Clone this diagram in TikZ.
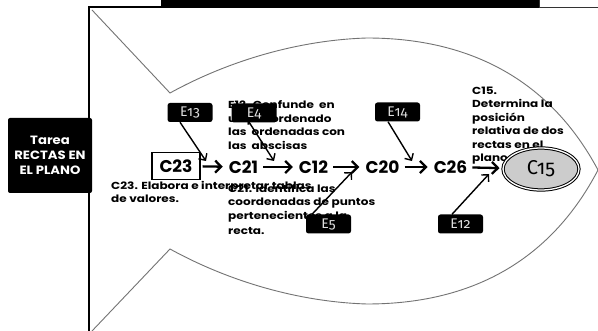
\documentclass[tikz,border=0pt]{standalone}
\usepackage{fontspec}
\setmainfont{Poppins}
\newfontfamily\efont[Numbers=OldStyle]{Fira Sans}
\newfontfamily\descfont[FakeStretch=1.18, BoldFeatures={FakeStretch=1.18}]{Poppins}
\newfontfamily\tareafont[FakeStretch=1.1, BoldFeatures={FakeStretch=1.1}]{Poppins}
\usetikzlibrary{arrows.meta,shapes.geometric,calc}
\tikzset{
  fishline/.style={draw=gray!90!black, line width=0.9pt},
  tareabox/.style={fill=black, rounded corners=2pt, text=white, minimum width=84pt, minimum height=75pt, align=center, inner sep=0pt, font=\tareafont\fontsize{12}{15}\selectfont\bfseries},
  clabel/.style={inner sep=3pt, font=\fontsize{17}{17}\selectfont\bfseries},
  cbox/.style={clabel, draw, line width=1.3pt, minimum width=48pt, minimum height=27pt},
  cellipse/.style={ellipse, draw, double, double distance=1.3pt, line width=1pt, fill=gray!40, minimum width=76pt, minimum height=42pt, inner sep=0pt, font=\efont\fontsize{20}{20}\selectfont},
  ebox/.style={fill=black, rounded corners=2.5pt, minimum width=45pt, minimum height=19pt, inner sep=0pt, text=gray!25, font=\efont\fontsize{14}{14}\selectfont},
  desc/.style={anchor=north west, inner sep=0pt, align=left, font=\descfont\fontsize{10.2}{13.5}\selectfont\bfseries},
  flow/.style={line width=2.3pt, -{Straight Barb[length=6pt,width=12pt]}, shorten <=2pt, shorten >=3pt},
  earrow/.style={line width=1.4pt, -{Straight Barb[length=5pt,width=10pt]}}
}
\begin{document}
\begin{tikzpicture}[x=1pt,y=-1pt]
\useasboundingbox (0,0) rectangle (598,331);
\fill[white] (0,0) rectangle (598,331);
% fish
\draw[fishline] (92,10) -- (170,93) .. controls (230,60) and (300,40) .. (367,38)
  .. controls (470,38) and (550,80) .. (598,170)
  .. controls (550,262) and (470,304) .. (367,304)
  .. controls (300,302) and (230,282) .. (170,249) -- (92,331);
% frame and banner
\draw[line width=2.5pt] (89,331) -- (89,7) -- (161,7);
\fill[black] (161,0) rectangle (539,8.5);
\draw[line width=0.8pt, black!80] (539,0) -- (539,7) -- (598,7);
% task box
\node[tareabox] (tarea) at (50,155.5) {Tarea\\RECTAS EN\\EL PLANO};
% descriptions
\node[desc] (d23) at (111,181) {C23. Elabora e interpretar tablas\\de valores.};
\node[desc] (d21) at (228,184) {C21. Identifica las\\coordenadas de puntos\\pertenecientes a la\\[1.5pt]recta.};
\node[desc] (d12) at (228,100.5) {E12. Confunde\ \ en\\un par ordenado\\las\ \ ordenadas con\\las\ \ abscisas};
\node[desc] (d15) at (472,86.5) {C15.\\Determina la\\posición\\relativa de dos\\rectas en el\\plano};
% competences
\node[cbox] (c23) at (176,166) {C23};
\node[clabel] (c21) at (243.5,167) {C21};
\node[clabel] (c12) at (313.5,167) {C12};
\node[clabel] (c20) at (382.5,167) {C20};
\node[clabel] (c26) at (450.5,167) {C26};
\node[cellipse] (c15) at (541,169) {C15};
\draw[flow] (c23) -- (c21);
\draw[flow] (c21) -- (c12);
\draw[flow] (c12) -- (c20);
\draw[flow] (c20) -- (c26);
\draw[flow] (c26) -- (c15);
% errors
\node[ebox] (e13) at (190,112.5) {E13};
\node[ebox] (e4) at (254,113) {E4};
\node[ebox] (e14) at (397.5,112) {E14};
\node[ebox] (e5) at (328.5,224) {E5};
\node[ebox] (e12) at (460.5,224) {E12};
\coordinate (t13) at (206,161);
\coordinate (t4) at (274,161);
\coordinate (t14) at (412,161);
\coordinate (t5) at (352,172);
\coordinate (t12) at (489,174);
\draw[earrow] ($(e13.south)+(-10,0)$) -- (t13);
\draw[earrow] ($(e4.center)+(-14,-5)$) -- (t4);
\draw[earrow] ($(e14.south)+(-9.5,0)$) -- (t14);
\draw[earrow] ($(e5.north)+(-16.5,0)$) -- (t5);
\draw[earrow] ($(e12.north)+(-8.5,0)$) -- (t12);
\end{tikzpicture}
\end{document}
